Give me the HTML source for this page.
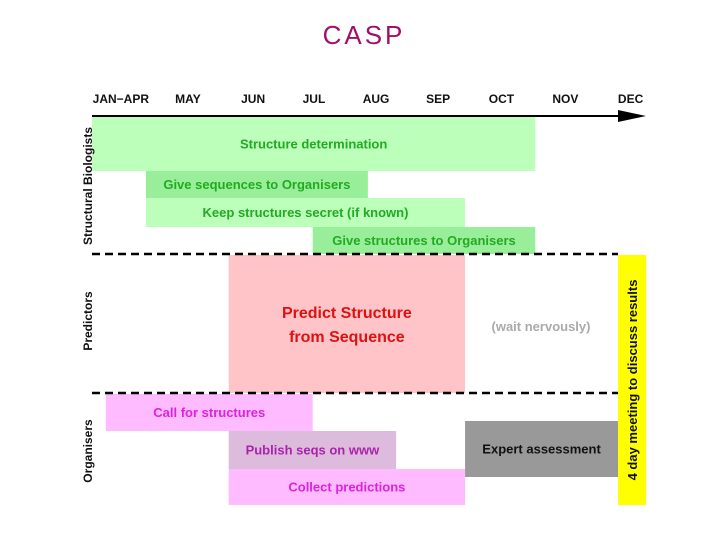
<!DOCTYPE html>
<html><head><meta charset="utf-8"><style>
body{margin:0;background:#fff;}
svg{display:block;font-family:"Liberation Sans",Arial,sans-serif;}
</style></head><body>
<svg id="c" width="720" height="540">
<text x="364" y="44" text-anchor="middle" font-size="26" fill="#a0106a" letter-spacing="3">CASP</text>
</svg>
<script>
const months = ["JAN\u2212APR","MAY","JUN","JUL","AUG","SEP","OCT","NOV","DEC"];
const monthPos = [0.46,1.53,2.57,3.54,4.53,5.52,6.53,7.55,8.59];
const taskNames = ["Structure determination","Give sequences to Organisers","Keep structures secret (if known)","Give structures to Organisers","Predict Structure|from Sequence","Call for structures","Publish seqs on www","Collect predictions","Expert assessment"];
const taskStart = [0,0.86,0.86,3.52,2.18,0.22,2.18,2.18,5.95];
const taskEnd = [7.07,4.40,5.95,7.07,5.95,3.52,4.85,5.95,8.39];
const rowTop = [117,171,198,227,255,394,431,469,421];
const rowBottom = [171,198,227,254,393,431,469,505,477];
const fills = ["#bbffbb","#99ee99","#bbffbb","#99ee99","#ffc4c8","#ffbbff","#ddbbdd","#ffbbff","#999999"];
const textCol = ["#22aa22","#22aa22","#22aa22","#22aa22","#dd1111","#dd22dd","#aa22aa","#dd22dd","#111111"];
const svg = document.getElementById('c');
const NS = "http://www.w3.org/2000/svg";
const x = t => 92 + t*62.7;
function mk(tag, attrs){const e=document.createElementNS(NS,tag);for(const k in attrs)e.setAttribute(k,attrs[k]);svg.appendChild(e);return e;}
for(let i=0;i<taskNames.length;i++){
  const r=mk('rect',{x:x(taskStart[i]),y:rowTop[i],width:x(taskEnd[i])-x(taskStart[i]),height:rowBottom[i]-rowTop[i],fill:fills[i]});
  
  
  const lines=taskNames[i].split('|');
  const cx=(x(taskStart[i])+x(taskEnd[i]))/2, cy=(rowTop[i]+rowBottom[i])/2;
  const fs = lines.length>1?16:13;
  lines.forEach((ln,j)=>{
    const t=mk('text',{x:cx,y:cy+(j-(lines.length-1)/2)*24+fs*0.36,'text-anchor':'middle','font-size':fs,'font-weight':'bold',fill:textCol[i]});
    t.textContent=ln;
    
    
  });
}
const yb=mk('rect',{x:x(8.39),y:255,width:28,height:250,fill:'#ffff00'});


const yt=mk('text',{x:0,y:0,transform:'translate(637,380) rotate(-90)','text-anchor':'middle','font-size':13,'font-weight':'bold',fill:'#111'});
yt.textContent='4 day meeting to discuss results';


const wn=mk('text',{x:541,y:331,'text-anchor':'middle','font-size':13,'font-weight':'bold',fill:'#aaaaaa'});
wn.textContent='(wait nervously)';


months.forEach((m,i)=>{
  const t=mk('text',{x:x(monthPos[i]),y:103,'text-anchor':'middle','font-size':12,'font-weight':'bold',fill:'#111'});
  t.textContent=m;
  
  
});
const al=mk('line',{x1:92,y1:116,x2:622,y2:116,stroke:'#000','stroke-width':2});


const ah=mk('polygon',{points:'618,110 646,116 618,122',fill:'#000'});


[254,393].forEach(yv=>{
  const d=mk('line',{x1:92,y1:yv,x2:618,y2:yv,stroke:'#000','stroke-width':2.5,'stroke-dasharray':'8,5'});
  
  
});
[["Structural Biologists",186],["Predictors",321],["Organisers",451]].forEach(([s,cy])=>{
  const t=mk('text',{x:0,y:0,transform:`translate(92,${cy}) rotate(-90)`,'text-anchor':'middle','font-size':12,'font-weight':'bold',fill:'#111'});
  t.textContent=s;
  
  
});
</script>
</body></html>
